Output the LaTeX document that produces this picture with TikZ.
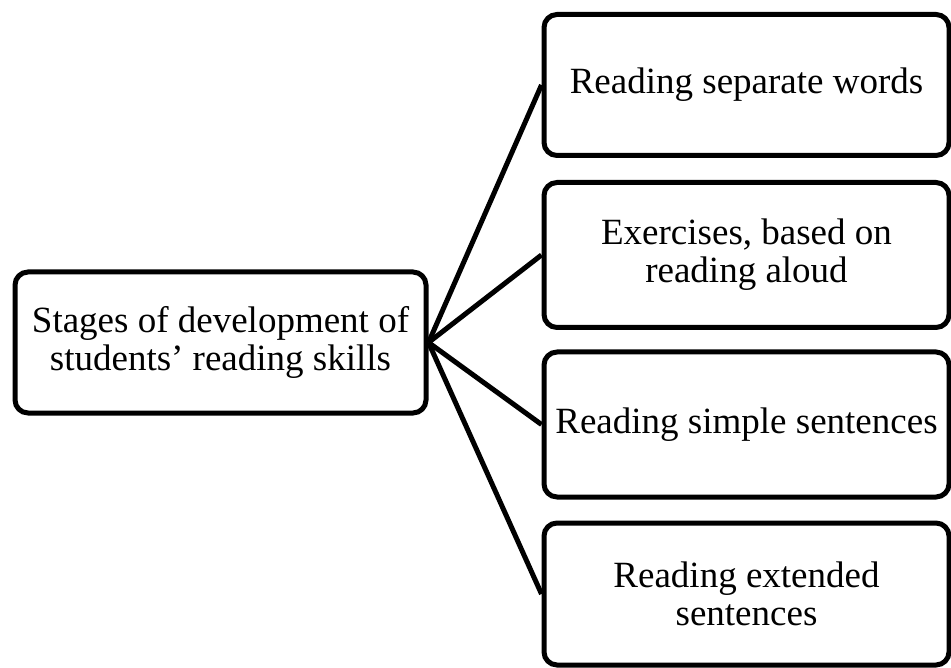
\documentclass[tikz,border=0pt]{standalone}
\usepackage{fontspec}
\setmainfont{Liberation Serif}
\begin{document}
\begin{tikzpicture}[x=1pt,y=-1pt,
  box/.style={draw=black, line width=5pt, rounded corners=13pt, inner sep=0pt, align=center,
    font=\fontsize{37}{38}\selectfont},
  link/.style={draw=black, line width=5pt}]
\useasboundingbox (0,0) rectangle (951,668);
\node[box, minimum width=411pt, minimum height=141pt] (L) at (220.5,342.5) {Stages of development of\\students’ reading skills};
\node[box, minimum width=405pt, minimum height=141pt] (A) at (746.5,85) {Reading separate words};
\node[box, minimum width=405pt, minimum height=145pt] (B) at (746.5,255) {Exercises, based on\\reading aloud};
\node[box, minimum width=405pt, minimum height=145pt] (C) at (746.5,424.5) {Reading simple sentences};
\node[box, minimum width=405pt, minimum height=142pt] (D) at (746.5,594) {Reading extended\\sentences};
\draw[link] (L.east) -- (A.west);
\draw[link] (L.east) -- (B.west);
\draw[link] (L.east) -- (C.west);
\draw[link] (L.east) -- (D.west);
\end{tikzpicture}
\end{document}
